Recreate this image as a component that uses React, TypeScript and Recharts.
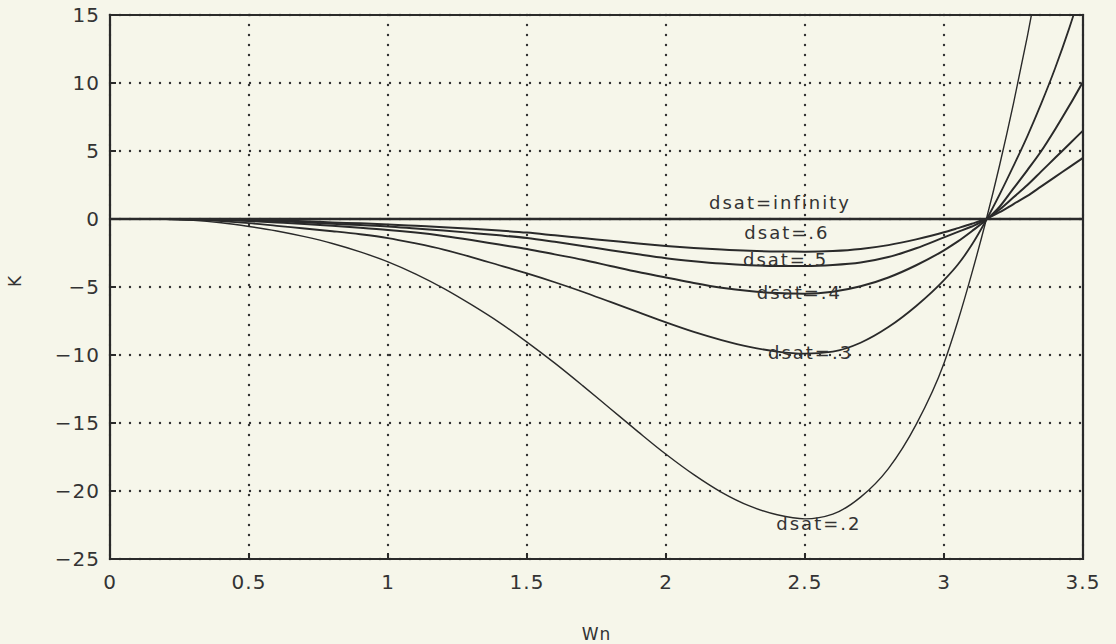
import React from 'react';
import { LineChart, Line, XAxis, YAxis, CartesianGrid, ReferenceArea, ReferenceDot, Label } from 'recharts';

const WN = [0, 0.1, 0.2, 0.3, 0.4, 0.5, 0.6, 0.7, 0.8, 0.9, 1.0, 1.1, 1.2, 1.3, 1.4, 1.5, 1.6, 1.7, 1.8, 1.9, 2.0, 2.1, 2.2, 2.3, 2.4, 2.5, 2.6, 2.7, 2.8, 2.9, 3.0, 3.05, 3.1, 3.15, 3.2, 3.25, 3.3, 3.35, 3.4, 3.45, 3.5];

const K_D02 = [0, 0, -0.02, -0.1, -0.28, -0.55, -0.88, -1.3, -1.8, -2.42, -3.15, -4.05, -5.1, -6.3, -7.6, -9.05, -10.6, -12.25, -13.95, -15.65, -17.3, -18.8, -20.1, -21.1, -21.75, -22.05, -21.7, -20.45, -18.35, -15.1, -10.6, -7.5, -4.0, -0.2, 3.95, 8.5, 13.45, 18.8, 24.6, 30.8, 37.4];
const K_D03 = [0, 0, -0.01, -0.05, -0.15, -0.3, -0.5, -0.7, -0.9, -1.12, -1.4, -1.8, -2.25, -2.8, -3.4, -4.0, -4.65, -5.35, -6.1, -6.85, -7.6, -8.3, -8.9, -9.4, -9.75, -9.9, -9.75, -9.1, -7.95, -6.4, -4.5, -3.35, -1.9, -0.15, 1.8, 3.9, 6.1, 8.5, 11.1, 14.0, 17.2];
const K_D04 = [0, 0, 0, -0.02, -0.07, -0.15, -0.25, -0.36, -0.5, -0.64, -0.8, -1.0, -1.25, -1.55, -1.88, -2.2, -2.6, -3.0, -3.45, -3.9, -4.3, -4.7, -5.05, -5.3, -5.45, -5.5, -5.35, -4.95, -4.3, -3.4, -2.3, -1.65, -0.9, -0.1, 0.9, 2.25, 3.6, 5.0, 6.6, 8.3, 10.1];
const K_D05 = [0, 0, 0, -0.01, -0.05, -0.1, -0.15, -0.25, -0.35, -0.45, -0.55, -0.7, -0.85, -1.02, -1.2, -1.4, -1.68, -1.98, -2.3, -2.6, -2.88, -3.1, -3.28, -3.4, -3.45, -3.45, -3.38, -3.2, -2.8, -2.15, -1.35, -0.95, -0.55, -0.05, 0.7, 1.6, 2.5, 3.5, 4.5, 5.5, 6.5];
const K_D06 = [0, 0, 0, -0.01, -0.03, -0.05, -0.1, -0.17, -0.25, -0.32, -0.4, -0.5, -0.6, -0.72, -0.85, -1.0, -1.2, -1.4, -1.6, -1.8, -1.98, -2.13, -2.25, -2.34, -2.39, -2.4, -2.35, -2.2, -1.92, -1.5, -0.98, -0.67, -0.35, 0, 0.5, 1.1, 1.7, 2.4, 3.1, 3.8, 4.5];
const K_DINF = WN.map(() => 0);

const SERIES_KEYS = ['d02', 'd03', 'd04', 'd05', 'd06', 'dinf'];
const SERIES_VALUES = [K_D02, K_D03, K_D04, K_D05, K_D06, K_DINF];
const SERIES_WIDTHS = [1.4, 1.8, 2, 2, 2, 2.4];

const LABEL_TEXTS = ['dsat=infinity', 'dsat=.6', 'dsat=.5', 'dsat=.4', 'dsat=.3', 'dsat=.2'];
const LABEL_X = [2.41, 2.435, 2.43, 2.48, 2.52, 2.55];
const LABEL_Y = [1.18, -1.03, -3.0, -5.44, -9.85, -22.4];

const X_TICKS = [0, 0.5, 1, 1.5, 2, 2.5, 3, 3.5];
const Y_TICKS = [-25, -20, -15, -10, -5, 0, 5, 10, 15];

const data = WN.map((w, i) => {
  const row: Record<string, number> = { wn: w };
  SERIES_KEYS.forEach((k, j) => {
    row[k] = SERIES_VALUES[j][i];
  });
  return row;
});

const FONT = 'DejaVu Sans';
const INK = '#2a2a2a';
const fmt = (v: number) => String(v).replace('-', '\u2212');

export default function App() {
  return (
    <div style={{ position: 'absolute', left: 0, top: 0, width: 1116, height: 644, background: '#f6f6ea' }}>
      <LineChart width={1116} height={644} data={data} margin={{ top: 15, right: 33, left: 10, bottom: 0 }}>
        <CartesianGrid stroke="#333" strokeDasharray="0 10" strokeWidth={2.4} strokeLinecap="round" />
        <XAxis
          dataKey="wn"
          type="number"
          domain={[0, 3.5]}
          ticks={X_TICKS}
          height={85}
          axisLine={false}
          tickSize={-6}
          tickMargin={22}
          tickLine={{ stroke: INK, strokeWidth: 2 }}
          tick={{ fontSize: 20, fill: '#333', fontFamily: FONT, letterSpacing: 1 }}
          tickFormatter={fmt}
        >
          <Label value="Wn" position="insideBottom" offset={4} style={{ fontSize: 17, fill: '#333', fontFamily: FONT, letterSpacing: 1 }} />
        </XAxis>
        <XAxis
          xAxisId="top"
          orientation="top"
          dataKey="wn"
          type="number"
          domain={[0, 3.5]}
          ticks={X_TICKS}
          height={0}
          axisLine={false}
          tickSize={-6}
          tickLine={{ stroke: INK, strokeWidth: 2 }}
          tick={false}
        />
        <YAxis
          type="number"
          domain={[-25, 15]}
          ticks={Y_TICKS}
          allowDataOverflow
          width={100}
          axisLine={false}
          tickSize={-6}
          tickMargin={16}
          tickLine={{ stroke: INK, strokeWidth: 2 }}
          tick={{ fontSize: 20, fill: '#333', fontFamily: FONT, letterSpacing: 1 }}
          tickFormatter={fmt}
        >
          <Label value="K" position="insideLeft" angle={-90} offset={5} style={{ fontSize: 17, fill: '#333', fontFamily: FONT }} />
        </YAxis>
        <YAxis
          yAxisId="right"
          orientation="right"
          type="number"
          domain={[-25, 15]}
          ticks={Y_TICKS}
          allowDataOverflow
          width={0}
          axisLine={false}
          tickSize={-6}
          tickLine={{ stroke: INK, strokeWidth: 2 }}
          tick={false}
        />
        <ReferenceArea x1={0} x2={3.5} y1={-25} y2={15} fill="none" fillOpacity={0} stroke={INK} strokeWidth={2.2} />
        {SERIES_KEYS.map((k, j) => (
          <Line
            key={k}
            dataKey={k}
            type="monotoneX"
            stroke={INK}
            strokeWidth={SERIES_WIDTHS[j]}
            dot={false}
            activeDot={false}
            isAnimationActive={false}
          />
        ))}
        {LABEL_TEXTS.map((t, i) => (
          <ReferenceDot
            key={t}
            x={LABEL_X[i]}
            y={LABEL_Y[i]}
            r={0}
            fill="none"
            stroke="none"
            ifOverflow="visible"
            label={{ value: t, position: 'center', fontSize: 18, fill: '#333', fontFamily: FONT, letterSpacing: 2 }}
          />
        ))}
      </LineChart>
    </div>
  );
}
